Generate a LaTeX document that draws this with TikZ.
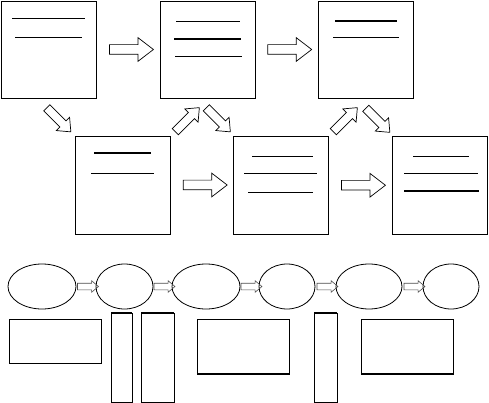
\documentclass[tikz,border=0pt]{standalone}
\usepackage{tikz}
\usetikzlibrary{calc,shapes.geometric,shapes.arrows}

\tikzset{
  page/.style={draw,line width=0.8pt,inner sep=0pt,outer sep=0pt,minimum width=95pt,minimum height=97pt},
  bigarrow/.style={draw,single arrow,line width=0.7pt,inner xsep=0pt,inner ysep=4.5pt,minimum height=44pt,single arrow head extend=7pt,single arrow tip angle=75},
  diagarrow/.style={draw,single arrow,line width=0.7pt,inner xsep=0pt,inner ysep=4pt,minimum height=34pt,single arrow head extend=5pt,single arrow tip angle=80},
  blob/.style={draw,ellipse,line width=0.8pt,inner sep=0pt,minimum height=45pt},
  smallarrow/.style={draw=black!70,single arrow,line width=0.6pt,inner xsep=0pt,inner ysep=3pt,minimum height=21pt,single arrow head extend=2.5pt,single arrow tip angle=80},
  txtline/.style={line width=0.8pt},
  boldline/.style={line width=1.7pt}
}

\begin{document}
\begin{tikzpicture}[x=1pt,y=-1pt]
        \useasboundingbox (0,0) rectangle (489,403);

        % top row
        \node[page] (p1) at (49,49.5) {};
        \node[page] (p2) at (207.5,49.5) {};
        \node[page] (p3) at (365.5,49.5) {};
        % middle row
        \node[page,minimum height=98pt] (p4) at (123,185) {};
        \node[page,minimum height=98pt] (p5) at (281,185) {};
        \node[page,minimum height=98pt] (p6) at (439.5,185.5) {};

        \draw[txtline] (12,18) -- (85,18);
        \draw[txtline] (15,37) -- (82,37);

        \draw[txtline] (176,21) -- (240,21);
        \draw[boldline] (174,39) -- (241,39);
        \draw[txtline] (175,56) -- (242,56);

        \draw[boldline] (335,21) -- (397,21);
        \draw[txtline] (333,37) -- (399,37);

        \draw[boldline] (94,153) -- (151,153);
        \draw[txtline] (91,173) -- (154,173);

        \draw[txtline] (252,156) -- (313,156);
        \draw[txtline] (244,173) -- (317,173);
        \draw[txtline] (248,192) -- (313,192);

        \draw[txtline] (413,156) -- (469,156);
        \draw[txtline] (404,173) -- (478,173);
        \draw[boldline] (404,191) -- (479,191);

        % block arrows
        \node[bigarrow] (a12) at ($(p1.east)!0.5!(p2.west)$) {};
        \node[bigarrow] (a23) at ($(p2.east)!0.5!(p3.west)$) {};
        \node[bigarrow] (a45) at ($(p4.east)!0.5!(p5.west)$) {};
        \node[bigarrow] (a56) at ($(p5.east)!0.5!(p6.west)$) {};

        \node[diagarrow,rotate=-45] (a14) at (57,118) {};
        \node[diagarrow,rotate=45] (a42) at (185.5,121.5) {};
        \node[diagarrow,rotate=-45] (a25) at (216.5,118) {};
        \node[diagarrow,rotate=45] (a53) at (343.5,121.5) {};
        \node[diagarrow,rotate=-45] (a36) at (376,118.5) {};

        % ellipses
        \node[blob,minimum width=68pt] (e1) at (42,286.5) {};
        \node[blob,minimum width=57pt] (e2) at (124.5,286.5) {};
        \node[blob,minimum width=68pt] (e3) at (206,286.5) {};
        \node[blob,minimum width=56pt] (e4) at (287,286.5) {};
        \node[blob,minimum width=66pt] (e5) at (369,286.5) {};
        \node[blob,minimum width=56pt] (e6) at (451,286.5) {};

        \foreach \i/\j in {1/2,2/3,3/4,4/5,5/6}
          \node[smallarrow] (s\i) at ($(e\i.east)!0.5!(e\j.west)$) {};

        % bottom boxes
        \draw[txtline] (9,319) rectangle (101,363);
        \draw[txtline] (111,313) rectangle (132,402);
        \draw[boldline] (111,313) -- (132,313);
        \draw[txtline] (141,313) rectangle (174,402);
        \draw[boldline] (141,313) -- (174,313);
        \draw[txtline] (197,319) rectangle (289,374);
        \draw[boldline] (197,374) -- (289,374);
        \draw[txtline] (314,313) rectangle (337,402);
        \draw[boldline] (314,313) -- (337,313);
        \draw[txtline] (361,319) rectangle (453,374);
        \draw[boldline] (361,374) -- (453,374);
    \end{tikzpicture}
\end{document}
